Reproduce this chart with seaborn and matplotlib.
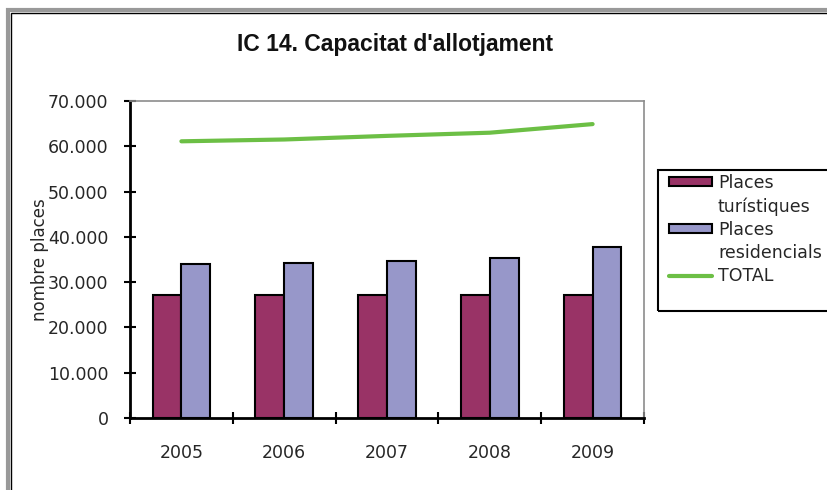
import numpy as np
import pandas as pd
import matplotlib
matplotlib.use("Agg")
import matplotlib.pyplot as plt
import seaborn as sns
from matplotlib.ticker import FuncFormatter, FixedLocator
from matplotlib.patches import Patch, Rectangle
from matplotlib.lines import Line2D

years = ["2005", "2006", "2007", "2008", "2009"]
places_turistiques = [27200, 27200, 27200, 27200, 27200]
places_residencials = [33900, 34300, 34600, 35400, 37700]
total = [61100, 61500, 62300, 63000, 64900]
series_names = ["Places turístiques", "Places residencials"]
legend_lines = ["Places", "turístiques", "Places", "residencials", "TOTAL"]

sns.set_theme(style="white")
plt.rcParams["font.family"] = ["DejaVu Sans"]

W, H = 827, 490
fig = plt.figure(figsize=(W / 100, H / 100), dpi=100)
ax = fig.add_axes([130 / W, 1 - 418 / H, (644 - 130) / W, (418 - 101) / H])

df = pd.DataFrame({
    "year": years * 2,
    "value": places_turistiques + places_residencials,
    "serie": [series_names[0]] * 5 + [series_names[1]] * 5,
})
red = "#993366"
blue = "#9797C9"
green = "#6CBF45"
txt = "#262626"
sns.barplot(data=df, x="year", y="value", hue="serie", order=years,
            hue_order=series_names, palette=[red, blue], width=0.56,
            edgecolor="black", linewidth=1.5, saturation=1, ax=ax, legend=False)
sns.lineplot(x=np.arange(len(years)), y=total, color=green, lw=3, ax=ax)

ax.set_xlim(-0.5, 4.5)
ax.set_ylim(0, 70000)
ax.set_yticks(np.arange(0, 70001, 10000))
ax.yaxis.set_major_formatter(FuncFormatter(lambda v, p: f"{int(v):,}".replace(",", ".")))
ax.set_xticks(np.arange(len(years)))
ax.set_xticklabels(years)
ax.xaxis.set_minor_locator(FixedLocator(np.arange(-0.5, 5, 1)))
ax.tick_params(axis="x", which="major", length=0, pad=19, labelsize=12.5, labelcolor=txt)
ax.tick_params(axis="x", which="minor", bottom=True, direction="inout", length=9, width=1.5, color="black")
ax.tick_params(axis="y", left=True, direction="inout", length=9, width=1.5, color="black",
               pad=11, labelsize=12.5, labelcolor=txt)
ax.set_xlabel("")
ax.set_ylabel("nombre places", fontsize=12, color=txt, labelpad=-1)

for s in ["left", "bottom"]:
    ax.spines[s].set_color("black")
    ax.spines[s].set_linewidth(2)
for s in ["top", "right"]:
    ax.spines[s].set_color("#8c8c8c")
    ax.spines[s].set_linewidth(1.2)

fig.text(395 / W, 1 - 45 / H, "IC 14. Capacitat d'allotjament", ha="center", va="center",
         fontsize=16.5, fontweight="bold", family=["Liberation Sans", "DejaVu Sans"], color="#111111")

blank = Patch(facecolor="none", edgecolor="none")
handles = [Patch(facecolor=red, edgecolor="black", linewidth=1.5), blank,
           Patch(facecolor=blue, edgecolor="black", linewidth=1.5), blank,
           Line2D([0], [0], color=green, lw=3)]
leg = fig.legend(handles, legend_lines, loc="upper left",
                 bbox_to_anchor=(669 / W, 1 - 174 / H), bbox_transform=fig.transFigure,
                 frameon=False, fontsize=12.5, handlelength=2.47,
                 handleheight=0.45, handletextpad=0.35, labelspacing=0.3,
                 borderpad=0, borderaxespad=0)
for t in leg.get_texts():
    t.set_color(txt)

# legend frame
fig.patches.append(Rectangle((658 / W, 1 - 311 / H), 0.5, (311 - 170) / H, transform=fig.transFigure,
                             fill=False, edgecolor="black", linewidth=1.5))
# outer chart border
fig.patches.append(Rectangle((8 / W, -0.1), 1.2, 1 - 10 / H + 0.1, transform=fig.transFigure,
                             fill=False, edgecolor="#999999", linewidth=3))
fig.patches.append(Rectangle((11 / W, -0.1), 1.2, 1 - 13 / H + 0.1, transform=fig.transFigure,
                             fill=False, edgecolor="black", linewidth=1))

fig.savefig("out.png", dpi=100)
